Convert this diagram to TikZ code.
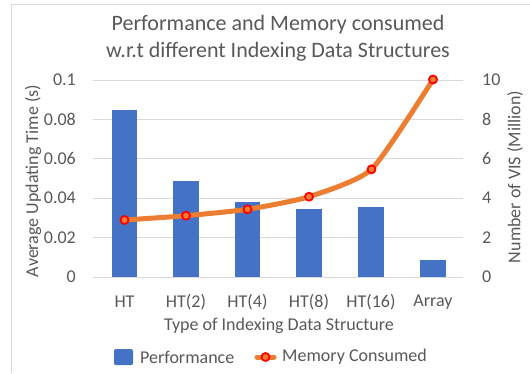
\documentclass[tikz,border=0pt]{standalone}
\usepackage{fontspec}
\setmainfont{Carlito}
\begin{document}
\begin{tikzpicture}[x=1pt,y=-1pt,
  txt/.style={text=labelgray,inner sep=0pt,font=\fontsize{18}{21}\selectfont},
  grid/.style={draw=gridgray,line width=1pt},
  bar/.style={fill=barblue,draw=none},
  memline/.style={draw=lineorange,line width=5pt,line cap=round,line join=round},
  marker/.style={circle,draw=red,fill=lineorange,line width=1.8pt,minimum size=8pt,inner sep=0pt}]
\definecolor{labelgray}{HTML}{595959}
\definecolor{gridgray}{HTML}{D9D9D9}
\definecolor{barblue}{HTML}{4472C4}
\definecolor{lineorange}{HTML}{ED7D31}
\definecolor{framegray}{HTML}{D9D9D9}
\useasboundingbox[fill=white] (0,0) rectangle (530,373);
% chart frame (left and top edges)
\draw[framegray,line width=1pt] (11.5,373) -- (11.5,4) -- (530,4);
% title
\node[txt,font=\fontsize{22}{27}\selectfont,align=center] (title) at (278,38)
  {Performance and Memory consumed\\w.r.t different Indexing Data Structures};
% horizontal gridlines and tick labels
\foreach \i/\l/\r in {0/0/0,1/0.02/2,2/0.04/4,3/0.06/6,4/0.08/8,5/0.1/10}{
  \pgfmathsetmacro{\yy}{277-39.4*\i}
  \draw[grid] (93,\yy) -- (463,\yy);
  \node[txt,anchor=east] (ytick\i) at (76,\yy) {\l};
  \node[txt,anchor=west] (rtick\i) at (482,\yy) {\r};
}
% bars: average updating time
\foreach \c/\v [count=\k] in {124.5/0.085,186/0.0487,247.5/0.038,309/0.0345,371/0.0355,433/0.0086}{
  \pgfmathsetmacro{\top}{277-1970*\v}
  \fill[bar] (\c-12.8,277) rectangle (\c+12.8,\top);
}
% memory consumed: smoothed line with markers
\draw[memline] plot[smooth,tension=0.35] coordinates
  {(124.5,220) (186,215.7) (247.5,209.3) (309,196.7) (371.5,169.3) (433,79.5)};
\foreach \c/\y [count=\k] in {124.5/220,186/215.7,247.5/209.3,309/196.7,371.5/169.3,433/79.5}
  \node[marker] (m\k) at (\c,\y) {};
% category labels
\foreach \c/\l [count=\k] in {124.5/HT,186/HT(2),247.5/HT(4),309/HT(8),371/HT(16),433/Array}
  \node[txt] (cat\k) at (\c,302) {\l};
% axis titles
\node[txt] (xtitle) at (279,326) {Type of Indexing Data Structure};
\node[txt,rotate=90] (ytitle) at (33,181) {Average Updating Time (s)};
\node[txt,rotate=90] (rtitle) at (515,177) {Number of VIS (Million)};
% legend
\fill[bar,rounded corners=1.5pt] (114,349) rectangle (133,365);
\node[txt,anchor=west] (leg1) at (140,357) {Performance};
\draw[memline] (257,357) -- (274,357);
\node[marker] (legm) at (265.5,357) {};
\node[txt,anchor=west] (leg2) at (282,357) {Memory Consumed};
\end{tikzpicture}
\end{document}
